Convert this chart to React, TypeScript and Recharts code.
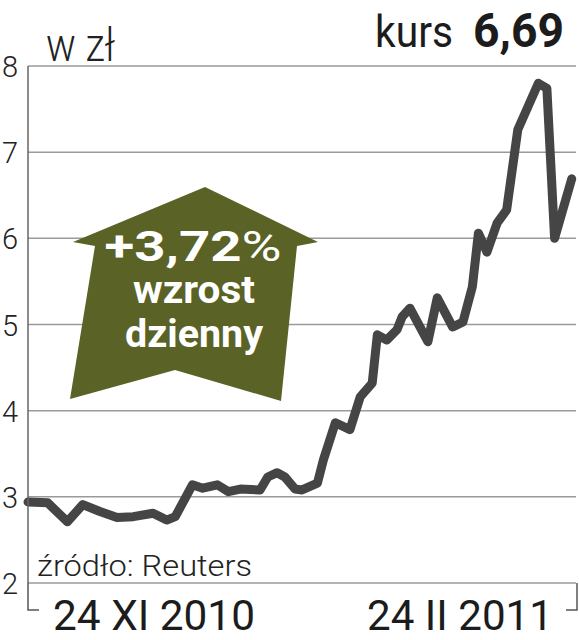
import { CartesianGrid, Line, LineChart, XAxis, YAxis } from "recharts";

// trading day offset from 24 XI 2010 and closing price (zł)
const days = [
  0, 2.3, 4.6, 6.4, 8.4, 10.4, 12.3, 14.6, 16.2, 17.2, 19.2, 20.4, 22.1, 23.4, 24.8, 27.1, 28.0, 29.1, 30.0, 31.2,
  32.0, 33.8, 34.5, 35.9, 37.6, 38.8, 40.2, 40.8, 41.9, 43.1, 43.7, 44.6, 46.7, 47.8, 49.6, 50.8, 51.9, 52.6, 53.6,
  54.8, 55.9, 57.2, 59.6, 60.6, 61.5, 63.5,
];
const prices = [
  2.94, 2.93, 2.71, 2.91, 2.83, 2.76, 2.77, 2.81, 2.73, 2.77, 3.14, 3.1, 3.14, 3.06, 3.09, 3.08, 3.23, 3.28, 3.23, 3.09,
  3.08, 3.16, 3.43, 3.86, 3.78, 4.16, 4.32, 4.88, 4.82, 4.94, 5.09, 5.19, 4.8, 5.31, 4.97, 5.03, 5.44, 6.06, 5.84,
  6.18, 6.33, 7.26, 7.8, 7.74, 6.0, 6.69,
];
const yTicks = [2, 3, 4, 5, 6, 7, 8];
const xTicks = [0, 64];
const xLabels = ["24 XI 2010", "24 II 2011"];

const data = days.map((d, i) => ({ day: d, price: prices[i] }));

const FONT = "Roboto, 'Liberation Sans', sans-serif";
const OLIVE = "#5a6226";

function YTick(props: any) {
  const { y, payload } = props;
  return (
    <text x={2} y={y + 11} fontFamily={FONT} fontWeight={300} fontSize={29} fill="#222">
      {payload.value}
    </text>
  );
}

function XTick(props: any) {
  const { x, y, index } = props;
  const first = index === 0;
  const bx = first ? x : x + 1;
  return (
    <g>
      <path d={`M${bx},${y} V${y + 27} H${first ? bx + 11 : bx - 11}`} stroke="#555" strokeWidth={1.5} fill="none" />
      <text
        x={first ? x + 25 : x - 23}
        y={y + 47}
        textAnchor={first ? "start" : "end"}
        fontFamily={FONT}
        fontSize={42}
        fill="#1c1c1c"
        textLength={first ? 202 : 186}
        lengthAdjust="spacingAndGlyphs"
      >
        {xLabels[index]}
      </text>
    </g>
  );
}

export default function App() {
  return (
    <div style={{ position: "absolute", left: 0, top: 0, width: 579, height: 640, background: "#fff" }}>
      <LineChart width={579} height={640} data={data} margin={{ top: 66, right: 3, bottom: 0, left: 0 }}>
        <CartesianGrid vertical={false} stroke="#9a9a9a" strokeWidth={1.5} />
        <XAxis
          dataKey="day"
          type="number"
          domain={[0, 64]}
          ticks={xTicks}
          axisLine={false}
          tickLine={false}
          tickSize={0}
          tickMargin={0}
          height={57}
          tick={<XTick />}
          interval={0}
        />
        <YAxis
          domain={[2, 8]}
          ticks={yTicks}
          width={28}
          axisLine={{ stroke: "#666", strokeWidth: 1.5 }}
          tickLine={false}
          tick={<YTick />}
          interval={0}
        />
        <Line
          type="linear"
          dataKey="price"
          stroke="#454545"
          strokeWidth={9}
          strokeLinejoin="round"
          strokeLinecap="round"
          dot={false}
          isAnimationActive={false}
        />
      </LineChart>
      <svg width={579} height={640} style={{ position: "absolute", left: 0, top: 0, pointerEvents: "none" }}>
        <text x={46} y={61} fontFamily={FONT} fontWeight={300} fontSize={46} fill="#222" textLength={69} lengthAdjust="spacingAndGlyphs">
          w zł
        </text>
        <text x={375} y={47} fontFamily={FONT} fontSize={45} fill="#1c1c1c" textLength={78} lengthAdjust="spacingAndGlyphs">
          kurs
        </text>
        <text x={473} y={47} fontFamily={FONT} fontWeight={700} fontSize={48} fill="#1c1c1c" textLength={91} lengthAdjust="spacingAndGlyphs">
          6,69
        </text>
        <text x={37} y={576} fontFamily={FONT} fontWeight={300} fontSize={30} fill="#222" textLength={215} lengthAdjust="spacingAndGlyphs">
          źródło: Reuters
        </text>
        <polygon points="205,187 73,242 95,246 70,399 175,370 281,401 297,246 318,242" fill={OLIVE} />
        <g fontFamily={FONT} fontWeight={700} fill="#fff" textAnchor="middle">
          <text x={193} y={261} fontSize={42} textLength={177} lengthAdjust="spacingAndGlyphs">
            +3,72<tspan fontWeight={400}>%</tspan>
          </text>
          <text x={194} y={303} fontSize={38} textLength={122} lengthAdjust="spacingAndGlyphs">
            wzrost
          </text>
          <text x={194} y={347} fontSize={38} textLength={138} lengthAdjust="spacingAndGlyphs">
            dzienny
          </text>
        </g>
      </svg>
    </div>
  );
}
